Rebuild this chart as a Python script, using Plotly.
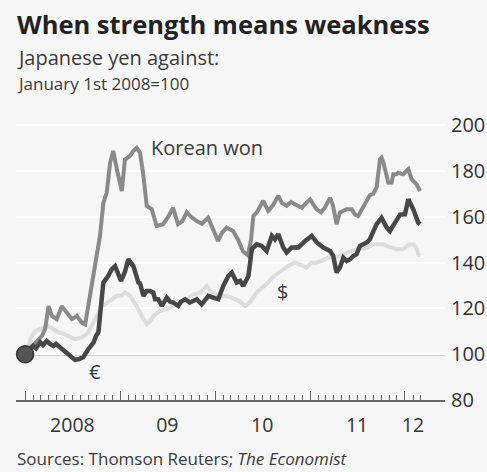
import pandas as pd
import plotly.graph_objects as go

# Japanese yen against three currencies, index 1 Jan 2008 = 100.
# Each point is (days after 1 Jan 2008, index value).
korean_won = [
    (0, 100), (12, 102), (31, 104), (50, 106), (65, 108), (77, 111), (90, 121),
    (103, 116.7), (122, 115.3), (141, 121), (160, 118.3), (180, 115.3), (199, 116.7),
    (218, 113.8), (231, 113), (243, 121), (258, 130), (269, 137), (288, 151.7),
    (301, 166), (314, 170.6), (327, 183.7), (339, 188.8), (353, 180.8), (372, 171.3),
    (384, 185), (404, 186.6), (416, 188.8), (429, 190.2), (442, 188), (455, 178),
    (468, 164.8), (487, 163.3), (506, 156), (531, 156.8), (550, 160), (569, 164),
    (588, 156.8), (604, 158), (622, 162), (638, 160), (660, 158.2), (680, 157),
    (704, 159.6), (723, 155), (742, 149.5), (757, 153), (775, 155.3), (800, 153.8),
    (819, 150), (838, 145), (857, 143.2), (869, 150), (878, 160.4), (891, 161.9),
    (916, 167), (935, 162.6), (953, 165), (974, 169.2), (988, 166), (1006, 164.8),
    (1023, 166.5), (1038, 165.5), (1064, 164), (1080, 166), (1096, 167.7),
    (1121, 163.3), (1138, 162), (1153, 164), (1173, 168.4), (1184, 165),
    (1198, 156.8), (1211, 161.9), (1224, 162.6), (1237, 163.3), (1256, 163.3),
    (1269, 161), (1281, 160.4), (1301, 164.8), (1314, 167.7), (1326, 169.5),
    (1339, 170), (1352, 173), (1365, 185.2), (1371, 185.9), (1378, 183.7),
    (1391, 178.6), (1397, 174.9), (1410, 175), (1416, 178.6), (1429, 178.6),
    (1435, 179.3), (1454, 178.6), (1474, 180.8), (1487, 176.4), (1506, 174.2),
    (1519, 171.3),
]

euro = [
    (0, 100), (15, 102), (31, 103.6), (42, 102.5), (58, 105.2), (69, 104), (83, 105.8),
    (96, 104.5), (109, 103.6), (119, 104.5), (135, 103), (146, 102), (160, 100.7),
    (180, 98.5), (192, 97.5), (205, 97.8), (224, 98.7), (243, 102.2), (254, 104),
    (263, 105.1), (273, 108), (282, 109.6), (288, 116.7), (301, 131.3), (320, 134.2),
    (333, 137.1), (346, 138.5), (358, 135.5), (369, 132), (384, 136), (397, 141.5),
    (416, 138.6), (436, 131.3), (442, 131), (455, 125.5), (468, 127.6), (481, 127.6),
    (493, 126.9), (500, 124), (512, 124), (526, 121.1), (545, 124.7), (557, 123),
    (570, 122.6), (589, 121.1), (600, 123), (615, 124), (634, 122.6), (660, 124),
    (679, 121.8), (692, 124), (705, 125.5), (724, 124.7), (743, 124), (762, 129.8),
    (782, 134.2), (795, 135.6), (814, 131.3), (827, 132), (839, 129.8), (859, 134.2),
    (872, 145.9), (891, 148), (910, 147.3), (929, 145.1), (949, 151.7), (961, 150.2),
    (974, 152.4), (993, 146.6), (1006, 144.4), (1025, 146.6), (1051, 146.6),
    (1077, 149.5), (1102, 151.7), (1122, 148.8), (1147, 146.6), (1173, 145.1),
    (1185, 143), (1198, 135.7), (1211, 137.9), (1224, 142.2), (1237, 140.7),
    (1250, 141.5), (1262, 142.9), (1275, 143.7), (1288, 147.3), (1301, 148),
    (1314, 148.8), (1326, 150.2), (1339, 153.1), (1352, 156.8), (1371, 159.6),
    (1391, 155.3), (1403, 153.8), (1423, 157.5), (1434, 159), (1442, 161),
    (1461, 161.1), (1474, 167.7), (1493, 163.3), (1512, 157.5), (1519, 156.8),
]

us_dollar = [
    (0, 100), (15, 104), (26, 108), (38, 110), (58, 111), (77, 111.5), (88, 112.4),
    (108, 111), (128, 109.5), (146, 109), (166, 108), (192, 106.6), (218, 107.3),
    (243, 109.5), (269, 115.3), (295, 121.1), (311, 122), (333, 124), (353, 125.5),
    (372, 125.5), (384, 127), (404, 125.5), (429, 121.1), (455, 115.3), (468, 113.1),
    (481, 114.5), (493, 116.7), (519, 118.9), (545, 119.7), (570, 121.1), (596, 122.6),
    (622, 124), (647, 126.2), (673, 126.9), (699, 129.8), (718, 126.9), (743, 125.5),
    (769, 125.5), (788, 125), (807, 124), (827, 123), (846, 121.1), (865, 122.6),
    (891, 127), (911, 129), (935, 131.3), (955, 134), (974, 135.7), (992, 137),
    (1012, 138.6), (1038, 140.1), (1064, 138.6), (1083, 137.8), (1102, 140.1),
    (1119, 140), (1141, 140.8), (1166, 142.2), (1188, 142.5), (1211, 142.9),
    (1242, 144.5), (1275, 145.9), (1314, 146.5), (1339, 148), (1365, 148),
    (1378, 148), (1396, 147), (1416, 146.6), (1429, 145.9), (1454, 146),
    (1480, 148), (1493, 148), (1503, 147), (1512, 143.7), (1519, 142.9),
]

year_label_dates = ["2008-07-01", "2009-07-01", "2010-07-01", "2011-07-01", "2012-02-01"]
year_labels = ["2008", "09", "10", "11", "12"]
y_ticks = [80, 100, 120, 140, 160, 180, 200]

BASE = pd.Timestamp("2008-01-01")


def unpack(series):
    days, values = zip(*series)
    dates = BASE + pd.to_timedelta(list(days), unit="D")
    return dates, list(values)


FONT = "Open Sans"
x_range = ["2007-11-27", "2012-06-03"]
year_starts = [f"{y}-01-01" for y in range(2008, 2013)]
month_starts = [d.strftime("%Y-%m-%d") for d in pd.date_range("2008-01-01", "2012-03-01", freq="MS")
                if d.month != 1]

fig = go.Figure()

styles = [
    (us_dollar, "#dcdcdc", 4),
    (korean_won, "#8a8a8a", 4),
    (euro, "#474747", 4.5),
]
for series, colour, width in styles:
    xs, ys = unpack(series)
    fig.add_trace(go.Scatter(x=xs, y=ys, mode="lines", line=dict(color=colour, width=width),
                             showlegend=False, hoverinfo="skip"))

# Starting point marker at the base date
fig.add_trace(go.Scatter(x=[BASE], y=[100], mode="markers",
                         marker=dict(size=17, color="#555555", line=dict(color="#333333", width=1.5)),
                         showlegend=False, hoverinfo="skip", cliponaxis=False))

# Placeholder trace so the label axis is drawn
fig.add_trace(go.Scatter(x=year_label_dates, y=[None] * len(year_label_dates), xaxis="x2",
                         mode="markers", showlegend=False, hoverinfo="skip"))

fig.add_shape(type="line", xref="paper", x0=0, x1=1, yref="y", y0=100, y1=100,
              line=dict(color="#666666", width=2), layer="below")

text_col = "#3a3a3a"
annotations = [
    dict(text="<b>When strength means weakness</b>", x=0, y=1.357, xshift=-1,
         font=dict(size=25.5, color="#222222")),
    dict(text="Japanese yen against:", x=0, y=1.2347, xshift=-1,
         font=dict(size=20, color=text_col)),
    dict(text="January 1st 2008=100", x=0, y=1.1408, xshift=-1,
         font=dict(size=17, color=text_col)),
    dict(text="Sources: Thomson Reuters; <i>The Economist</i>", x=0, y=-0.2094, xshift=-1,
         font=dict(size=17, color=text_col)),
]
for a in annotations:
    fig.add_annotation(xref="paper", yref="paper", xanchor="left", yanchor="middle",
                       showarrow=False, font_family=FONT, **a)

series_labels = [
    ("Korean won", "2009-04-21", 190.4, "left"),
    ("$", "2010-09-18", 127.5, "center"),
    ("€", "2008-09-26", 92.6, "center"),
]
for text, xd, yv, anchor in series_labels:
    fig.add_annotation(x=xd, y=yv, xref="x", yref="y", text=text, showarrow=False,
                       xanchor=anchor, yanchor="middle",
                       font=dict(family=FONT, size=20, color=text_col))

fig.update_layout(
    width=487, height=472,
    margin=dict(l=16, r=42, t=123, b=72),
    paper_bgcolor="#f6f6f6", plot_bgcolor="#f6f6f6",
    font=dict(family=FONT, color="#333333"),
    xaxis=dict(
        type="date", range=x_range, showgrid=False, zeroline=False, automargin=False,
        showline=True, linecolor="#666666", linewidth=1.5,
        tickmode="array", tickvals=year_starts, ticks="inside", ticklen=9,
        tickcolor="#666666", tickwidth=1, showticklabels=False,
        minor=dict(tickmode="array", tickvals=month_starts, ticks="inside", ticklen=5,
                   tickcolor="#666666", tickwidth=1, showgrid=False),
    ),
    xaxis2=dict(
        type="date", range=x_range, overlaying="x", anchor="y", side="bottom",
        automargin=False, showgrid=False, zeroline=False, showline=False, ticks="",
        tickmode="array", tickvals=year_label_dates, ticktext=year_labels,
        tickfont=dict(size=19.5, color="#333333"), ticklabelstandoff=11,
    ),
    yaxis=dict(
        range=[80, 201], side="right", tickmode="array", tickvals=y_ticks, automargin=False,
        showgrid=True, gridcolor="#ffffff", gridwidth=2, zeroline=False, ticks="",
        tickfont=dict(size=20, color="#333333"), ticklabelstandoff=5,
    ),
)

fig.write_html("out.html")
